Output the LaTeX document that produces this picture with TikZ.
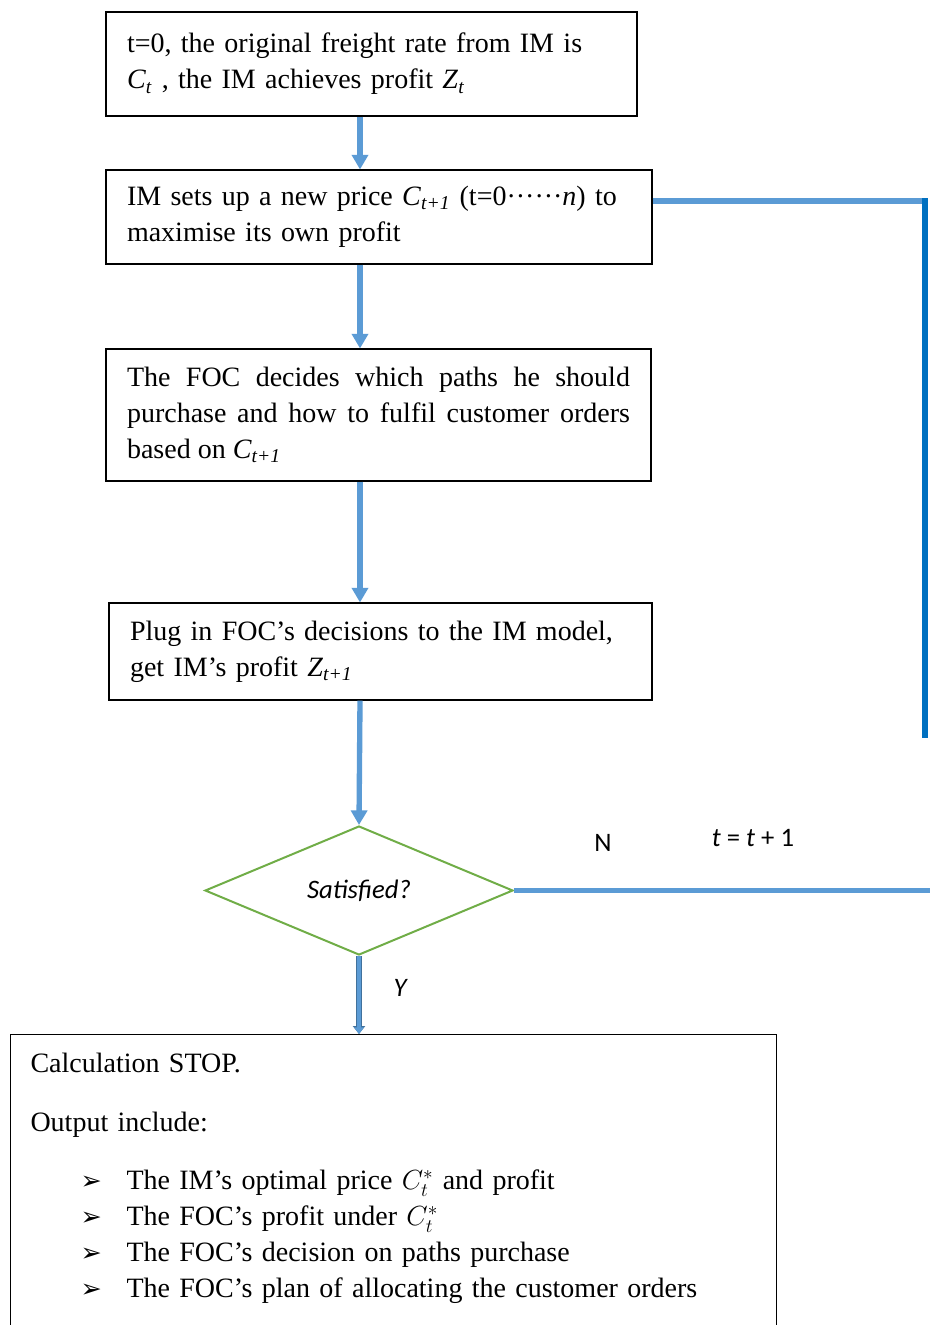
\documentclass[tikz,border=0pt]{standalone}
\usepackage{fontspec}
\setmainfont{Liberation Serif}
\newfontfamily\calfont{Carlito}
\newfontfamily\bulfont{DejaVu Sans}
\usetikzlibrary{arrows.meta, positioning, shapes.geometric}
\definecolor{imblue}{HTML}{5B9BD5}
\definecolor{loopblue}{HTML}{0070C0}
\definecolor{decgreen}{HTML}{70AD47}
\definecolor{ydark}{HTML}{41719C}
\newcommand{\vsub}[2]{\textit{#1}\textsubscript{\textit{#2}}}
\newcommand{\bul}{\hspace*{37.5pt}\makebox[34.5pt][l]{\bulfont\fontsize{19pt}{19pt}\selectfont ➢}}

\begin{document}
\begin{tikzpicture}[x=0.75pt, y=-0.75pt,
          box/.style={rectangle, draw=black, line width=0.8pt, align=left,
                      inner xsep=15.75pt, font=\fontsize{21pt}{27pt}\selectfont},
          dec/.style={diamond, draw=decgreen, line width=1.5pt, inner sep=0pt,
                      font=\calfont\itshape\fontsize{20pt}{22pt}\selectfont},
          lbl/.style={font=\calfont\fontsize{20pt}{22pt}\selectfont},
          arr/.style={-{Triangle[length=11pt, width=12pt]}, line width=4pt, imblue},
          link/.style={line width=4pt, imblue},
          yarr/.style={-{Triangle[length=5pt, width=7pt]}, line width=3pt, imblue,
                       preaction={draw=ydark, line width=5pt, -{Triangle[length=6pt, width=9pt]}}}]
          \useasboundingbox (0,0) rectangle (929,1325);
          \coordinate (spine) at (360,0);
          \node[box, text width=366.75pt, minimum height=78pt] (init) at (371.5,64)
               {t=0, the original freight rate from IM is\\
                \vsub{C}{t} , the IM achieves profit \vsub{Z}{t}};
          \node[box, text width=378pt, minimum height=70.5pt] (price) at (379,217)
               {IM sets up a new price \vsub{C}{t+1} (t=0······\textit{n}) to\\
                maximise its own profit};
          \node[box, align=justify, text width=377.25pt, minimum height=99pt] (foc) at (378.5,415)
               {The FOC decides which paths he should\linebreak
                purchase and how to fulfil customer orders\linebreak
                based on \vsub{C}{t+1}};
          \node[box, text width=375.75pt, minimum height=72.75pt] (plug) at (380.5,651.5)
               {Plug in FOC’s decisions to the IM model,\\
                get IM’s profit \vsub{Z}{t+1}};
          \node[dec, minimum width=231pt, minimum height=96.75pt] (sat) at (359,890.5) {Satisfied?};
          \node[box, anchor=north west, text width=544.5pt, inner xsep=15pt, inner ysep=14pt] (stop) at (10,1034)
               {Calculation STOP.\\[17pt]
                Output include:\\[17pt]
                \bul The IM’s optimal price $C_t^*$ and profit\\
                \bul The FOC’s profit under $C_t^*$\\
                \bul The FOC’s decision on paths purchase\\
                \bul The FOC’s plan of allocating the customer orders\\
                \mbox{}};
          \node[lbl] (nlab) at (603,843) {N};
          \node[lbl] (tinc) at (753,838) {\textit{t} = \textit{t} + 1};
          \node[lbl, font=\calfont\itshape\fontsize{20pt}{22pt}\selectfont] (ylab) at (400,988) {Y};
          \coordinate (looptop) at (925,201);
          \coordinate (loopend) at (925,735);
          \coordinate (nend) at (935,890.5);
          \draw[arr] (init.south -| spine) -- (price.north -| spine);
          \draw[arr] (price.south -| spine) -- (foc.north -| spine);
          \draw[arr] (foc.south -| spine) -- (plug.north -| spine);
          \draw[arr] (plug.south -| spine) -- (sat.north);
          \draw[yarr] (sat.south) -- (sat.south |- stop.north);
          \draw[link] (sat.east) -- (nend);
          \draw[link] (price.east |- looptop) -- (looptop);
          \draw[link, loopblue, line cap=rect] (looptop) -- (loopend);
        \end{tikzpicture}
\end{document}
